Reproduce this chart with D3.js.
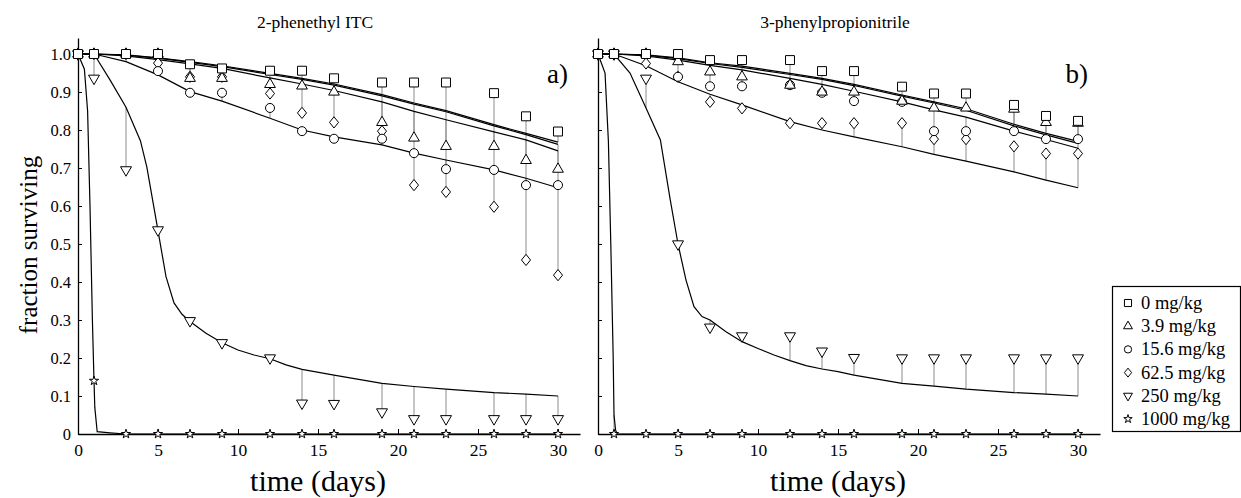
<!DOCTYPE html>
<html>
<head>
<meta charset="utf-8">
<script src="https://cdn.jsdelivr.net/npm/d3@7/dist/d3.min.js"></script>
<style>
  body { margin: 0; background: #fff; }
  svg { display: block; }
  text { font-family: "Liberation Serif", "Times New Roman", serif; fill: #000; }
</style>
</head>
<body>
<svg width="1241" height="498"></svg>
<script>
// sampling days
var days = [0, 1, 3, 5, 7, 9, 12, 14, 16, 19, 21, 23, 26, 28, 30];
var doses = ["0 mg/kg", "3.9 mg/kg", "15.6 mg/kg", "62.5 mg/kg", "250 mg/kg", "1000 mg/kg"];
var titles = ["2-phenethyl ITC", "3-phenylpropionitrile"];
var letters = ["a)", "b)"];
var xTicks = [0, 5, 10, 15, 20, 25, 30];
var yTicks = [0, 0.1, 0.2, 0.3, 0.4, 0.5, 0.6, 0.7, 0.8, 0.9, 1.0];

// panel a) observed fractions
var obsA_0    = [1, 1, 1, 1, 0.973, 0.962, 0.956, 0.956, 0.936, 0.925, 0.925, 0.925, 0.897, 0.836, 0.796];
var obsA_3_9  = [1, 1, 1, 1, 0.936, 0.936, 0.92, 0.916, 0.9, 0.82, 0.779, 0.757, 0.757, 0.72, 0.697];
var obsA_15_6 = [1, 1, 1, 0.955, 0.898, 0.898, 0.858, 0.797, 0.777, 0.777, 0.739, 0.697, 0.695, 0.655, 0.655];
var obsA_62_5 = [1, 1, 1, 0.976, 0.94, 0.94, 0.896, 0.845, 0.82, 0.797, 0.655, 0.637, 0.598, 0.458, 0.418];
var obsA_250  = [1, 0.936, 0.695, 0.537, 0.298, 0.24, 0.2, 0.081, 0.08, 0.058, 0.04, 0.04, 0.04, 0.04, 0.04];
var obsA_1000 = [1, 0.14, 0, 0, 0, 0, 0, 0, 0, 0, 0, 0, 0, 0, 0];

// panel a) fitted curves (at sampling days)
var fitA_0    = [1, 1, 0.998, 0.99, 0.98, 0.969, 0.949, 0.936, 0.921, 0.893, 0.871, 0.851, 0.814, 0.791, 0.768];
var fitA_3_9  = [1, 1, 0.997, 0.989, 0.978, 0.967, 0.946, 0.933, 0.918, 0.89, 0.868, 0.848, 0.811, 0.788, 0.762];
var fitA_15_6 = [1, 1, 0.98, 0.945, 0.901, 0.876, 0.831, 0.8, 0.782, 0.761, 0.739, 0.721, 0.695, 0.673, 0.648];
var fitA_62_5 = [1, 1, 0.995, 0.985, 0.974, 0.962, 0.937, 0.921, 0.904, 0.874, 0.849, 0.827, 0.795, 0.774, 0.745];
var fitA_250_days = [0, 1, 2, 3, 3.9, 4.3, 5, 5.5, 6, 6.5, 7, 8, 9, 10, 11, 12, 13, 14, 16, 19, 21, 23, 26, 28, 30];
var fitA_250  = [1, 1, 0.932, 0.86, 0.772, 0.703, 0.535, 0.414, 0.345, 0.315, 0.296, 0.265, 0.24, 0.221, 0.208, 0.198, 0.182, 0.17, 0.155, 0.133, 0.125, 0.118, 0.109, 0.105, 0.1];
var fitA_1000_days = [0, 0.4, 0.6, 0.75, 0.9, 1, 1.05, 1.2, 2, 3, 30];
var fitA_1000 = [1, 0.96, 0.85, 0.6, 0.3, 0.14, 0.07, 0.006, 0.003, 0, 0];

// panel b) observed fractions
var obsB_0    = [1, 1, 1, 1, 0.984, 0.984, 0.984, 0.955, 0.955, 0.914, 0.896, 0.896, 0.866, 0.837, 0.824];
var obsB_3_9  = [1, 1, 1, 0.98, 0.953, 0.94, 0.918, 0.9, 0.9, 0.876, 0.858, 0.858, 0.855, 0.82, 0.818];
var obsB_15_6 = [1, 1, 1, 0.94, 0.915, 0.915, 0.918, 0.898, 0.876, 0.874, 0.797, 0.797, 0.797, 0.776, 0.776];
var obsB_62_5 = [1, 1, 0.975, 0.94, 0.874, 0.857, 0.818, 0.818, 0.818, 0.818, 0.776, 0.776, 0.757, 0.738, 0.738];
var obsB_250  = [1, 1, 0.936, 0.5, 0.281, 0.258, 0.258, 0.218, 0.201, 0.2, 0.2, 0.2, 0.2, 0.2, 0.2];
var obsB_1000 = [1, 0, 0, 0, 0, 0, 0, 0, 0, 0, 0, 0, 0, 0, 0];

// panel b) fitted curves
var fitB_0    = [1, 1, 0.998, 0.99, 0.977, 0.968, 0.949, 0.936, 0.92, 0.892, 0.874, 0.856, 0.815, 0.791, 0.77];
var fitB_3_9  = [1, 1, 0.997, 0.988, 0.975, 0.965, 0.946, 0.933, 0.917, 0.889, 0.871, 0.852, 0.811, 0.787, 0.765];
var fitB_15_6 = [1, 1, 0.995, 0.984, 0.97, 0.958, 0.936, 0.92, 0.902, 0.874, 0.853, 0.834, 0.797, 0.775, 0.752];
var fitB_62_5 = [1, 1, 0.969, 0.927, 0.894, 0.866, 0.822, 0.8, 0.782, 0.756, 0.736, 0.718, 0.69, 0.668, 0.648];
var fitB_250_days = [0, 1, 2, 3, 3.9, 4.5, 5, 5.5, 6, 6.5, 7, 8, 9, 10, 11, 12, 13, 14, 15, 16, 19, 21, 23, 26, 28, 30];
var fitB_250  = [1, 1, 0.95, 0.858, 0.774, 0.62, 0.5, 0.405, 0.335, 0.309, 0.3, 0.269, 0.243, 0.225, 0.208, 0.193, 0.18, 0.171, 0.164, 0.155, 0.133, 0.126, 0.118, 0.109, 0.105, 0.1];
var fitB_1000_days = [0, 0.44, 0.65, 0.8, 0.95, 1, 1.1, 1.2, 30];
var fitB_1000 = [1, 0.95, 0.77, 0.5, 0.2, 0.05, 0.01, 0, 0];

var svg = d3.select("svg");

var wideDiamond = {
    draw: function(ctx, size) {
        var w = Math.sqrt(size) * 0.5, h = Math.sqrt(size) * 0.62;
        ctx.moveTo(0, -h); ctx.lineTo(w, 0); ctx.lineTo(0, h); ctx.lineTo(-w, 0); ctx.closePath();
    }
};
var downTriangle = {
    draw: function(ctx, size) {
        var s = Math.sqrt(size / 0.433), h = s * 0.866;
        ctx.moveTo(-s / 2, -h / 3); ctx.lineTo(s / 2, -h / 3); ctx.lineTo(0, 2 * h / 3); ctx.closePath();
    }
};
var symTypes = [d3.symbolSquare, d3.symbolTriangle, d3.symbolCircle, wideDiamond, downTriangle, d3.symbolStar];
var symSizes = [80, 50, 64, 82, 52, 26];
var legendSizes = [50, 34, 42, 52, 34, 22];

var y = d3.scaleLinear().domain([0, 1.0421]).range([434, 38]);

function pairs(ds, vs) {
    return ds.map(function(d, i) { return [d, vs[i]]; });
}

var panels = [
    { x0: 78, showY: true,
      obs: [obsA_0, obsA_3_9, obsA_15_6, obsA_62_5, obsA_250, obsA_1000],
      fit: [pairs(days, fitA_0), pairs(days, fitA_3_9), pairs(days, fitA_15_6), pairs(days, fitA_62_5),
            pairs(fitA_250_days, fitA_250), pairs(fitA_1000_days, fitA_1000)] },
    { x0: 598, showY: false,
      obs: [obsB_0, obsB_3_9, obsB_15_6, obsB_62_5, obsB_250, obsB_1000],
      fit: [pairs(days, fitB_0), pairs(days, fitB_3_9), pairs(days, fitB_15_6), pairs(days, fitB_62_5),
            pairs(fitB_250_days, fitB_250), pairs(fitB_1000_days, fitB_1000)] }
];

panels.forEach(function(p, pi) {
    var x = d3.scaleLinear().domain([0, 31.375]).range([p.x0, p.x0 + 502]);
    var g = svg.append("g");

    // axes
    var xAxis = d3.axisBottom(x).tickValues(xTicks).tickSizeInner(-5).tickSizeOuter(0).tickPadding(10);
    var gx = g.append("g").attr("transform", "translate(0," + y(0) + ")").call(xAxis);
    gx.selectAll("text").style("font-size", "17.5px");
    var yAxis = d3.axisLeft(y).tickValues(yTicks).tickSizeInner(-4).tickSizeOuter(0).tickPadding(7)
        .tickFormat(function(d) { return p.showY ? (d === 0 ? "0" : d3.format(".1f")(d)) : ""; });
    var gy = g.append("g").attr("transform", "translate(" + x(0) + ",0)").call(yAxis);
    gy.selectAll("text").style("font-size", "16.5px");
    g.selectAll(".domain").attr("stroke", "#000").attr("stroke-width", 1.3);
    g.selectAll(".tick line").attr("stroke", "#000");

    // residual lines
    p.obs.forEach(function(vals, k) {
        var fit = p.fit[k];
        g.append("g").selectAll("line")
            .data(days.map(function(d, i) {
                var f = fit.find(function(q) { return q[0] === d; });
                return { d: d, v: vals[i], f: f ? f[1] : vals[i] };
            }))
            .enter().append("line")
            .attr("x1", function(o) { return x(o.d); })
            .attr("x2", function(o) { return x(o.d); })
            .attr("y1", function(o) { return y(o.v); })
            .attr("y2", function(o) { return y(o.f); })
            .attr("stroke", "#8c8c8c")
            .attr("stroke-width", 1);
    });

    // fitted curves
    var line = d3.line().x(function(q) { return x(q[0]); }).y(function(q) { return y(q[1]); });
    p.fit.forEach(function(f) {
        g.append("path").attr("d", line(f)).attr("fill", "none")
            .attr("stroke", "#000").attr("stroke-width", 1.2);
    });

    // markers
    for (var k = p.obs.length - 1; k >= 0; k--) {
        var sym = d3.symbol().type(symTypes[k]).size(symSizes[k]);
        g.append("g").selectAll("path")
            .data(p.obs[k])
            .enter().append("path")
            .attr("transform", function(v, i) { return "translate(" + x(days[i]) + "," + y(v) + ")"; })
            .attr("d", sym())
            .attr("fill", "#fff")
            .attr("stroke", "#000")
            .attr("stroke-width", 1);
    }

    svg.append("text").attr("x", x(0) + 237).attr("y", 28)
        .attr("text-anchor", "middle").style("font-size", "17.5px").text(titles[pi]);
    svg.append("text").attr("x", x(0) + 490).attr("y", 83)
        .attr("text-anchor", "end").style("font-size", "27px").text(letters[pi]);
    svg.append("text").attr("x", x(0) + 240).attr("y", 491)
        .attr("text-anchor", "middle").style("font-size", "30px").text("time (days)");
});

svg.append("text")
    .attr("transform", "translate(37,245) rotate(-90)")
    .attr("text-anchor", "middle").style("font-size", "25px").text("fraction surviving");

// legend
var lg = svg.append("g");
lg.append("rect").attr("x", 1112.5).attr("y", 286.5).attr("width", 128).attr("height", 145)
    .attr("fill", "#fff").attr("stroke", "#000").attr("stroke-width", 1.2);
doses.forEach(function(name, k) {
    var yy = 303 + k * 23.2;
    lg.append("path")
        .attr("transform", "translate(1128," + yy + ")")
        .attr("d", d3.symbol().type(symTypes[k]).size(legendSizes[k])())
        .attr("fill", "#fff").attr("stroke", "#000").attr("stroke-width", 1);
    lg.append("text").attr("x", 1141).attr("y", yy + 6)
        .style("font-size", "18.5px").text(name);
});
</script>
</body>
</html>
